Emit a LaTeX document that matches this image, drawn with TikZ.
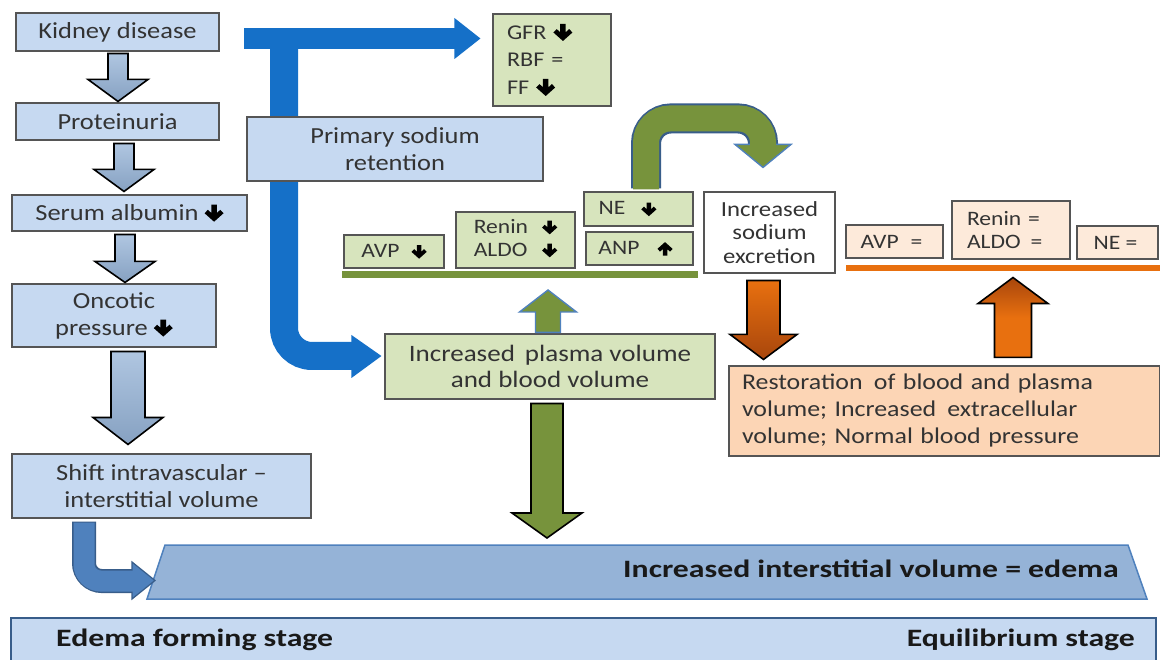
\documentclass[tikz,border=0pt]{standalone}
\usepackage{fontspec}
\setmainfont{Carlito}[FakeStretch=1.15]
\newfontfamily\widefont{Carlito}[FakeStretch=1.27]
\usetikzlibrary{calc}

\definecolor{boxblue}{HTML}{C6D9F1}
\definecolor{arrblue}{HTML}{95B3D7}
\definecolor{deepblue}{HTML}{1570C8}
\definecolor{midblue}{HTML}{4F81BD}
\definecolor{darkblue}{HTML}{385D8A}
\definecolor{boxgreen}{HTML}{D7E4BD}
\definecolor{olive}{HTML}{77933C}
\definecolor{orangeA}{HTML}{E8700F}
\definecolor{orangeD}{HTML}{A8460C}
\definecolor{peach}{HTML}{FCD5B5}
\definecolor{peachL}{HTML}{FDEADA}
\definecolor{txt}{HTML}{333333}
\definecolor{edge}{HTML}{555555}

% heavy arrows used inside the labels
\newcommand\dn[1][1]{\tikz[baseline=0pt,x=#1pt,y=#1pt]\fill[black]
  (0,-1.5) -- (9.5,7) -- (6.2,10.4) -- (2.8,7.3) -- (2.8,15.5) -- (-2.8,15.5)
  -- (-2.8,7.3) -- (-6.2,10.4) -- (-9.5,7) -- cycle;}
\newcommand\upa[1][1]{\tikz[baseline=0pt,x=#1pt,y=#1pt]\fill[black]
  (0,15.5) -- (9.5,7) -- (6.2,3.6) -- (2.8,6.7) -- (2.8,-1.5) -- (-2.8,-1.5)
  -- (-2.8,6.7) -- (-6.2,3.6) -- (-9.5,7) -- cycle;}

% straight block arrow: style, x centre, start, end, shaft half width,
% head half width, head length (signed, canvas y)
\newcommand\blockarrow[7]{%
  \path[#1] let \p1=(#3), \p2=(#4) in
    ({#2pt-#5pt},\y1) -- ({#2pt-#5pt},{\y2+(#7)}) -- ({#2pt-#6pt},{\y2+(#7)})
    -- (#2pt,\y2) -- ({#2pt+#6pt},{\y2+(#7)}) -- ({#2pt+#5pt},{\y2+(#7)})
    -- ({#2pt+#5pt},\y1) -- cycle;}

\begin{document}
\begin{tikzpicture}[x=1pt,y=-1pt,
  box/.style={draw=edge,line width=1.1pt,text=txt,inner sep=0pt,align=center,
    font=\fontsize{23}{27}\selectfont},
  bluebox/.style={box,fill=boxblue},
  greenbox/.style={box,fill=boxgreen,font=\fontsize{20.5}{23}\selectfont},
  peachbox/.style={box,fill=peachL,font=\fontsize{20.5}{23.5}\selectfont},
  colarrow/.style={top color=arrblue!75!white,bottom color=arrblue!90!black,draw=black,line width=1.6pt,line join=miter},
  greenarrow/.style={fill=olive,draw=black,line width=1.6pt,line join=miter},
  greenup/.style={fill=olive,draw=midblue,line width=1.4pt,line join=miter},
  orangedown/.style={top color=orangeA,bottom color=orangeD,draw=black,line width=1.6pt,line join=miter},
  orangeup/.style={top color=orangeD,bottom color=orangeA,middle color=orangeA,draw=black,line width=1.6pt,line join=miter},
  boldtxt/.style={font=\widefont\bfseries\fontsize{25}{29}\selectfont,text=black!90,inner sep=0pt}
]
\useasboundingbox (0,0) rectangle (1160,660);
\fill[white] (0,0) rectangle (1160,660);

% ---- left column
\node[bluebox,minimum width=203,minimum height=38] (kd) at (117.5,32) {Kidney disease};
\node[bluebox,minimum width=203,minimum height=37] (pr) at (117.5,121.5) {Proteinuria};
\node[bluebox,minimum width=235,minimum height=36] (sa) at (129.5,213) {Serum albumin \dn};
\node[bluebox,minimum width=204,minimum height=63] (op) at (114,315.5) {Oncotic\\pressure \dn};
\node[bluebox,minimum width=299,minimum height=64] (sh) at (161.5,486) {Shift intravascular --\\interstitial volume};

\blockarrow{colarrow}{118}{$(kd.south)+(0,2)$}{$(pr.north)+(0,-1)$}{10}{30}{22pt}
\blockarrow{colarrow}{124}{$(pr.south)+(0,3)$}{$(sa.north)+(0,-3)$}{10}{30}{22pt}
\blockarrow{colarrow}{125}{$(sa.south)+(0,3)$}{$(op.north)+(0,-1)$}{10}{30}{21pt}
\blockarrow{colarrow}{128}{$(op.south)+(0,4)$}{$(sh.north)+(0,-9)$}{17}{35}{27pt}

% ---- GFR box, plasma volume box
\node[box,fill=boxgreen,minimum width=118,minimum height=92,text width=90,align=left,
  font=\fontsize{21}{27.5}\selectfont] (gfr) at (552,60) {GFR \dn\\RBF =\\FF \dn};
\node[box,fill=boxgreen,minimum width=330,minimum height=65,font=\fontsize{23.5}{26}\selectfont] (ipv) at (550,366.5)
  {Increased\, plasma volume\\and blood volume};

% ---- big blue arrow: kidney disease to GFR, and down to the plasma volume
\coordinate (bs) at (244,38.5);
\coordinate (bj) at (284,38.5);
\draw[deepblue,line width=21pt] (bs) -- ($(gfr.west)+(-37,-21.5)$);
\fill[deepblue] ($(gfr.west)+(-38,-42)$) -- ($(gfr.west)+(-12,-21.5)$) -- ($(gfr.west)+(-38,-1)$) -- cycle;
\draw[deepblue,line width=28pt,rounded corners=28pt] (bj) -- ($(bj |- ipv.west)+(0,-10.5)$)
  -- ($(ipv.west)+(-31,-10.5)$);
\fill[deepblue] ($(ipv.west)+(-33,-31.5)$) -- ($(ipv.west)+(-3,-10.5)$) -- ($(ipv.west)+(-33,11.5)$) -- cycle;

\node[bluebox,minimum width=296,minimum height=64] (psr) at (395,149) {Primary sodium\\retention};

% ---- hormone boxes of the edema forming stage
\node[greenbox,minimum width=100,minimum height=33] (avp) at (394,251.5) {AVP\hspace{12pt}\dn[0.8]};
\node[greenbox,minimum width=119,minimum height=56] (ren) at (515.5,240)
  {\begin{tabular}{@{}l@{\hspace{14pt}}c@{}}Renin&\dn[0.8]\\ALDO&\dn[0.8]\end{tabular}};
\node[greenbox,minimum width=109,minimum height=34] (ne) at (638.5,209) {NE\hspace{16pt}\dn[0.8]\hspace{22pt}};
\node[greenbox,minimum width=107,minimum height=33] (anp) at (639.5,248.5) {ANP\hspace{18pt}\upa[0.8]\hspace{8pt}};
\draw[olive,line width=7pt] (342,275) coordinate (gl0) -- (698,275) coordinate (gl1);
\coordinate (gl) at (548,275);

\node[box,fill=white,minimum width=131,minimum height=81,font=\fontsize{21.5}{23.5}\selectfont] (ise) at (769.5,232.5)
  {Increased\\sodium\\excretion};

% ---- hormone boxes of the equilibrium stage
\node[peachbox,minimum width=97,minimum height=33] (avpe) at (894.5,241.5) {AVP\hspace{12pt}=\hspace{6pt}};
\node[peachbox,minimum width=118,minimum height=58,text width=88,align=left] (rene) at (1011,230) {Renin =\\ALDO\hspace{10pt}=};
\node[peachbox,minimum width=81,minimum height=33] (nee) at (1117.5,242.5) {NE =\hspace{4pt}};
\draw[orangeA,line width=6pt] (846,268.5) -- (1162,268.5);

% ---- restoration box
\node[box,fill=peach,minimum width=431,minimum height=90,text width=405,align=left,
  font=\fontsize{22.5}{27}\selectfont] (rest) at (944.5,411)
  {Restoration\, of blood and plasma\\volume; Increased\, extracellular\\volume; Normal blood pressure};

% green U-shaped arrow from NE to sodium excretion
\draw[darkblue,line width=30pt,rounded corners=25pt] ($(ne.north)+(7.5,-3)$) -- ++(0,-70) -- ++(117,0) -- ++(0,30);
\path[greenup] ($(ise.north)+(-34.5,-47)$) -- ($(ise.north)+(-6.5,-24)$) -- ($(ise.north)+(21.5,-47)$) -- cycle;
\draw[olive,line width=26pt,rounded corners=24pt] ($(ne.north)+(7.5,-2)$) -- ++(0,-71) -- ++(117,0) -- ++(0,33);

% short green arrow from plasma volume up to the hormone line
\blockarrow{greenup}{548}{$(ipv.north)+(0,-1)$}{$(gl)+(0,15)$}{12.5}{28.5}{-22pt}
% big green arrow down to the edema bar
\coordinate (tz-tl) at (165,545);
\coordinate (tz-tr) at (1128,545);
\coordinate (tz-br) at (1147,599);
\coordinate (tz-bl) at (147,599);
\blockarrow{greenarrow}{547}{$(ipv.south)+(0,4)$}{$(tz-tl)+(0,-7)$}{16}{35}{25pt}

% orange arrows
\blockarrow{orangedown}{763.5}{$(ise.south)+(0,7)$}{$(rest.north)+(0,-6)$}{16.5}{33.5}{25pt}
\blockarrow{orangeup}{1013}{$(rest.north)+(0,-8)$}{$(nee.south)+(0,18)$}{18.5}{35}{-26pt}

% ---- edema bar
\draw[fill=arrblue,draw=midblue,line width=1.5pt] (tz-tl) -- (tz-tr) -- (tz-br) -- (tz-bl) -- cycle;
\node[boldtxt] (edema) at (871,569) {Increased interstitial volume = edema};

% bent arrow from the shift box into the edema bar
\draw[darkblue,line width=24pt,rounded corners=18pt] ($(sh.south)+(-77.5,3)$) -- ++(0,59.5) -- ++(50,0);
\path[fill=midblue,draw=darkblue,line width=1.2pt,line join=miter] (132,562) -- (155,580.5) -- (132,599) -- cycle;
\draw[midblue,line width=21pt,rounded corners=17pt] ($(sh.south)+(-77.5,4)$) -- ++(0,58.5) -- ++(52,0);

% ---- stage band
\draw[fill=boxblue,draw=darkblue,line width=1.8pt] (11,618) rectangle (1156,690);
\node[boldtxt,anchor=west] (efs) at (56,640) {Edema forming stage};
\node[boldtxt,anchor=east] (eqs) at (1135,640) {Equilibrium stage};
\end{tikzpicture}
\end{document}
